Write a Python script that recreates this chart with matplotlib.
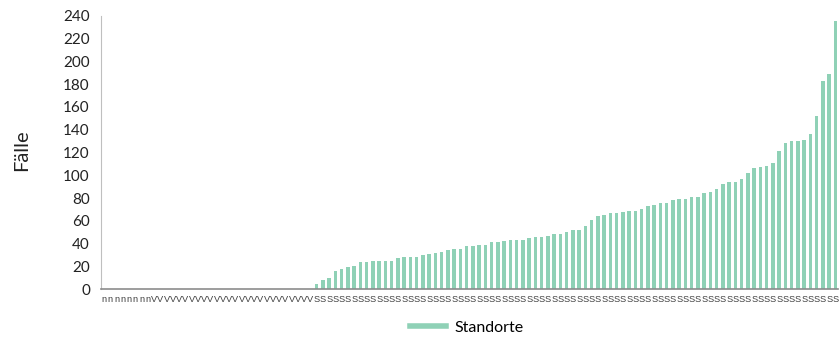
import matplotlib
matplotlib.use("Agg")
import matplotlib.pyplot as plt
from matplotlib.lines import Line2D

plt.rcParams['font.family'] = ['Lato', 'DejaVu Sans']

# category labels (truncated names as they appear on the axis)
labels = ["n"] * 8 + ["V"] * 26 + ["S"] * 84

# cases per site, sorted ascending
faelle_leer = [0] * 34
faelle = [4, 8, 10, 16, 18, 19, 20, 24, 24, 25, 25, 25, 25, 27, 28, 28, 28, 30, 31, 32,
          33, 34, 35, 35, 38, 38, 39, 39, 41, 41, 42, 43, 43, 43, 45, 46, 46, 47, 48, 48,
          50, 52, 52, 55, 61, 64, 65, 67, 67, 68, 69, 69, 70, 73, 74, 76, 76, 78, 79, 79,
          81, 81, 84, 85, 88, 92, 94, 94, 97, 102, 106, 107, 108, 111, 121, 128, 130, 130,
          131, 136, 152, 183, 189, 236]
values = faelle_leer + faelle

bar_color = "#8fd1b6"

fig = plt.figure(figsize=(8.39, 3.47), dpi=100)
ax = fig.add_axes([0.1204, 0.167, 0.879, 0.787])

x = range(len(values))
ax.bar(x, values, width=0.58, color=bar_color)

ax.set_xlim(-0.5, len(values) - 0.5)
ax.set_ylim(0, 240)
ax.set_yticks(range(0, 241, 20))
ax.tick_params(axis='y', length=0, labelsize=11, pad=8, labelcolor="#222222")
ax.set_xticks(list(x))
# Liberation Sans: S and V share one advance width, so the letters sit evenly
ax.set_xticklabels(labels, fontsize=6.7, color="#404040", family="Liberation Sans")
ax.tick_params(axis='x', length=0, pad=4)

for side in ["top", "right"]:
    ax.spines[side].set_visible(False)
ax.spines["left"].set_color("#bfbfbf")
ax.spines["bottom"].set_color("#8c8c8c")
ax.spines["bottom"].set_linewidth(1.2)

fig.text(0.026, 0.568, "Fälle", rotation=90, ha="center", va="center", fontsize=14.5, color="#222222")

handle = Line2D([], [], color=bar_color, linewidth=4)
fig.legend([handle], ["Standorte"], loc="center", bbox_to_anchor=(0.556, 0.055),
           frameon=False, fontsize=11.5, handlelength=2.3, handletextpad=0.5)

fig.savefig("out.png", dpi=100)
